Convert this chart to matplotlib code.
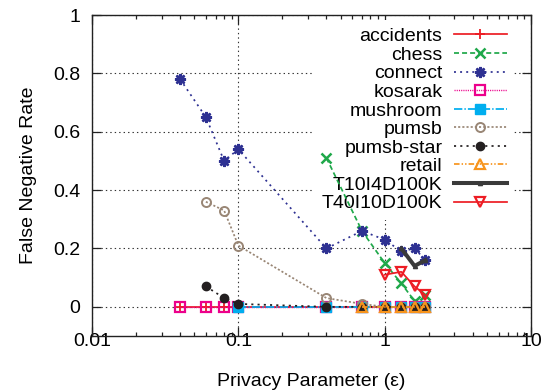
import numpy as np
import matplotlib
matplotlib.use('Agg')
import matplotlib.pyplot as plt
from matplotlib.ticker import FixedLocator, FormatStrFormatter, LogLocator, NullFormatter

plt.rcParams['font.family'] = ['Liberation Sans', 'DejaVu Sans']
plt.rcParams['font.size'] = 14
plt.rcParams['lines.scale_dashes'] = False

nan = np.nan

# privacy parameter values
eps = [0.04, 0.06, 0.08, 0.1, 0.4, 0.7, 1.0, 1.3, 1.6, 1.9]

accidents = [0, 0, 0, 0, 0, 0, 0, 0, 0, 0]
chess = [nan, nan, nan, nan, 0.51, 0.26, 0.15, 0.08, 0.02, 0.04]
connect = [0.78, 0.65, 0.50, 0.54, 0.20, 0.26, 0.23, 0.19, 0.20, 0.16]
kosarak = [0, 0, 0, 0, 0, 0, 0, 0, 0, 0]
mushroom = [nan, nan, nan, 0, 0, 0, 0, 0, 0, 0]
pumsb = [nan, 0.36, 0.33, 0.21, 0.03, 0.01, 0, 0, 0, 0]
pumsb_star = [nan, 0.07, 0.03, 0.01, 0, 0, 0, 0, 0, 0]
retail = [nan, nan, nan, nan, nan, 0, 0, 0, 0, 0]
t10 = [nan, nan, nan, nan, nan, nan, nan, 0.20, 0.14, 0.16]
t40 = [nan, nan, nan, nan, nan, nan, 0.11, 0.12, 0.07, 0.04]

xticks = [0.01, 0.1, 1, 10]
yticks = [0, 0.2, 0.4, 0.6, 0.8, 1]

fig = plt.figure(figsize=(5.45, 3.91), dpi=100)
ax = fig.add_axes([92 / 545, 55 / 391, 439 / 545, 321 / 391])

lw = 1.25

ax.plot(eps, accidents, color='#ec1c24', lw=lw, marker='+', ms=7, mew=1.3,
        label='accidents')
ax.plot(eps, chess, color='#1fa84a', lw=lw, dashes=(3.6, 2.2), marker='x', ms=6.5,
        mew=1.8, label='chess')
ax.plot(eps, connect, color='#2e3192', lw=lw, dashes=(1.4, 3.0), marker=(8, 2, 0),
        ms=8, mew=1.8, label='connect')
ax.plot(eps, kosarak, color='#ec008c', lw=1.0, dashes=(0.8, 0.8), marker='s', ms=7,
        mfc='none', mew=1.6, label='kosarak')
ax.plot(eps, mushroom, color='#00aeef', lw=lw, dashes=(6, 1.5, 1, 1.5), marker='s',
        ms=6.5, label='mushroom')
ax.plot(eps, pumsb, color='#998675', lw=lw, dashes=(1.5, 1.5), marker='o', ms=6.5,
        mfc='none', mew=1.4, label='pumsb')
ax.plot(eps, pumsb_star, color='#231f20', lw=lw, dashes=(1.5, 3.0), marker='o', ms=6,
        label='pumsb-star')
ax.plot(eps, retail, color='#f7941d', lw=lw, dashes=(4, 1.5, 1, 1.5, 1, 1.5), marker='^',
        ms=7, mfc='none', mew=1.6, label='retail')
ax.plot(eps, t10, color='#3a3a3a', lw=2.9, marker='^', ms=3, label='T10I4D100K')
ax.plot(eps, t40, color='#ed1c24', lw=lw, marker='v', ms=7.5, mfc='none', mew=1.6,
        label='T40I10D100K')

ax.set_xscale('log')
ax.set_xlim(0.01, 10)
ax.set_ylim(-0.1, 1)

ax.xaxis.set_major_locator(FixedLocator(xticks))
ax.xaxis.set_major_formatter(FormatStrFormatter('%g'))
ax.xaxis.set_minor_locator(LogLocator(base=10, subs=np.arange(2, 10)))
ax.xaxis.set_minor_formatter(NullFormatter())
ax.yaxis.set_major_locator(FixedLocator(yticks))
ax.yaxis.set_major_formatter(FormatStrFormatter('%g'))

ax.tick_params(which='both', direction='in', top=True, right=True, color='#222222')
ax.tick_params(axis='x', which='major', length=6.5, width=0.9, pad=-2.5)
ax.tick_params(axis='x', which='minor', length=3.2, width=0.9)
ax.tick_params(axis='y', which='major', length=6.5, width=0.9, pad=8.5)

for s in ax.spines.values():
    s.set_linewidth(1.0)
    s.set_color('#222222')

ax.set_axisbelow(True)
ax.grid(True, which='major', color='#333333', lw=0.8, ls=(0, (1, 2.2)))

ax.set_xlabel('Privacy Parameter (ε)')
ax.set_ylabel('False Negative Rate')
ax.xaxis.set_label_coords(0.5, -0.115)
ax.yaxis.set_label_coords(-0.125, 0.5)

leg = ax.legend(loc='upper right', bbox_to_anchor=(0.962, 0.985), borderaxespad=0,
                markerfirst=False, frameon=True, framealpha=1, edgecolor='none',
                fancybox=False, handlelength=2.7, handletextpad=0.6,
                labelspacing=0.05, borderpad=0.4, fontsize=14)
leg.set_zorder(1)

fig.savefig('out.png', dpi=100)
